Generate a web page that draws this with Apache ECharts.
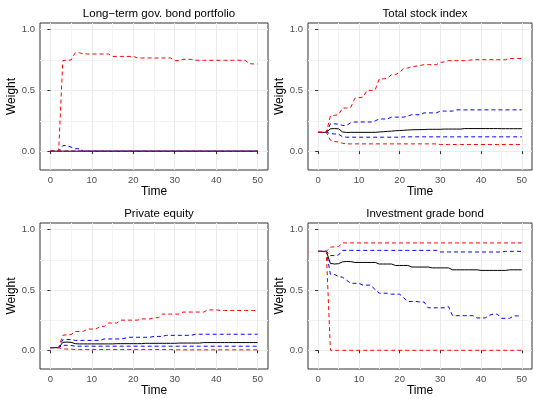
<!DOCTYPE html>
<html>
<head>
<meta charset="utf-8">
<script src="https://cdn.jsdelivr.net/npm/echarts@6/dist/echarts.min.js"></script>
<style>
  html, body { margin: 0; padding: 0; background: #ffffff; }
  #chart { width: 533px; height: 399px; }
</style>
</head>
<body>
<div id="chart"></div>
<script>
// Time steps (years)
const time = [0,1,2,3,4,5,6,7,8,9,10,11,12,13,14,15,16,17,18,19,20,21,22,23,24,25,26,27,28,29,30,31,32,33,34,35,36,37,38,39,40,41,42,43,44,45,46,47,48,49,50];

const panelTitles = ['Long\u2212term gov. bond portfolio', 'Total stock index', 'Private equity', 'Investment grade bond'];
const xTicks = [0, 10, 20, 30, 40, 50];
const yTicks = [0, 0.5, 1];

// Long-term gov. bond portfolio
const govMedian = [0,0,0,0,0,0,0,0,0,0,0,0,0,0,0,0,0,0,0,0,0,0,0,0,0,0,0,0,0,0,0,0,0,0,0,0,0,0,0,0,0,0,0,0,0,0,0,0,0,0,0];
const govBlueHi = [0,0,0,0.045,0.047,0.033,0.02,0.02,0,0,0,0,0,0,0,0,0,0,0,0,0,0,0,0,0,0,0,0,0,0,0,0,0,0,0,0,0,0,0,0,0,0,0,0,0,0,0,0,0,0,0];
const govBlueLo = [0,0,0,0,0,0,0,0,0,0,0,0,0,0,0,0,0,0,0,0,0,0,0,0,0,0,0,0,0,0,0,0,0,0,0,0,0,0,0,0,0,0,0,0,0,0,0,0,0,0,0];
const govRedHi = [0,0,0,0.745,0.75,0.75,0.81,0.81,0.80,0.80,0.80,0.80,0.80,0.80,0.80,0.78,0.78,0.78,0.78,0.78,0.78,0.767,0.767,0.767,0.767,0.767,0.767,0.767,0.767,0.767,0.745,0.745,0.756,0.756,0.756,0.748,0.748,0.748,0.748,0.748,0.748,0.748,0.748,0.748,0.748,0.748,0.748,0.748,0.72,0.718,0.718];
const govRedLo = [0,0,0,0,0,0,0,0,0,0,0,0,0,0,0,0,0,0,0,0,0,0,0,0,0,0,0,0,0,0,0,0,0,0,0,0,0,0,0,0,0,0,0,0,0,0,0,0,0,0,0];

// Total stock index
const stkMedian = [0.155,0.155,0.155,0.184,0.186,0.184,0.158,0.154,0.155,0.155,0.155,0.155,0.155,0.155,0.155,0.158,0.16,0.163,0.165,0.168,0.17,0.172,0.174,0.176,0.177,0.177,0.178,0.18,0.18,0.18,0.18,0.182,0.182,0.182,0.182,0.182,0.186,0.186,0.186,0.186,0.186,0.186,0.186,0.186,0.186,0.185,0.185,0.185,0.185,0.185,0.185];
const stkBlueHi = [0.155,0.155,0.155,0.225,0.225,0.222,0.212,0.212,0.235,0.24,0.24,0.24,0.24,0.24,0.25,0.265,0.265,0.265,0.28,0.28,0.28,0.28,0.29,0.30,0.30,0.30,0.315,0.315,0.315,0.315,0.33,0.33,0.33,0.33,0.34,0.34,0.34,0.34,0.34,0.34,0.34,0.34,0.34,0.34,0.34,0.34,0.34,0.34,0.34,0.34,0.34];
const stkBlueLo = [0.155,0.155,0.155,0.145,0.142,0.14,0.118,0.115,0.115,0.115,0.115,0.115,0.115,0.115,0.115,0.115,0.115,0.115,0.115,0.115,0.115,0.118,0.118,0.118,0.118,0.118,0.118,0.118,0.118,0.118,0.118,0.118,0.118,0.118,0.118,0.118,0.118,0.118,0.118,0.118,0.118,0.118,0.118,0.118,0.118,0.118,0.118,0.118,0.118,0.118,0.118];
const stkRedHi = [0.155,0.155,0.155,0.29,0.295,0.30,0.355,0.355,0.36,0.435,0.44,0.445,0.50,0.50,0.505,0.595,0.595,0.60,0.63,0.63,0.65,0.68,0.685,0.695,0.70,0.705,0.712,0.712,0.712,0.712,0.73,0.735,0.745,0.745,0.745,0.745,0.745,0.748,0.753,0.753,0.753,0.753,0.753,0.753,0.753,0.753,0.753,0.763,0.763,0.763,0.763];
const stkRedLo = [0.155,0.155,0.155,0.09,0.08,0.075,0.065,0.06,0.06,0.06,0.06,0.06,0.06,0.06,0.06,0.06,0.06,0.06,0.06,0.06,0.06,0.06,0.06,0.06,0.06,0.06,0.06,0.06,0.06,0.06,0.055,0.055,0.055,0.055,0.055,0.055,0.055,0.055,0.055,0.055,0.055,0.055,0.055,0.055,0.055,0.055,0.055,0.055,0.055,0.055,0.055];

// Private equity
const peMedian = [0.022,0.022,0.022,0.066,0.068,0.066,0.055,0.053,0.053,0.053,0.053,0.053,0.053,0.053,0.053,0.053,0.055,0.055,0.055,0.055,0.055,0.055,0.055,0.058,0.058,0.058,0.058,0.058,0.058,0.058,0.058,0.06,0.06,0.06,0.06,0.06,0.06,0.064,0.064,0.064,0.064,0.064,0.064,0.064,0.064,0.064,0.064,0.064,0.064,0.064,0.064];
const peBlueHi = [0.022,0.022,0.022,0.088,0.09,0.088,0.082,0.082,0.082,0.082,0.082,0.082,0.082,0.094,0.094,0.094,0.094,0.094,0.10,0.108,0.108,0.108,0.108,0.108,0.108,0.115,0.115,0.115,0.124,0.124,0.124,0.124,0.124,0.124,0.124,0.133,0.133,0.133,0.133,0.133,0.133,0.133,0.133,0.133,0.133,0.133,0.133,0.133,0.133,0.133,0.133];
const peBlueLo = [0.022,0.022,0.022,0.042,0.041,0.04,0.034,0.034,0.034,0.034,0.034,0.034,0.034,0.034,0.034,0.034,0.034,0.034,0.034,0.034,0.034,0.034,0.034,0.034,0.034,0.034,0.034,0.034,0.034,0.034,0.034,0.034,0.034,0.034,0.034,0.034,0.034,0.034,0.034,0.034,0.034,0.034,0.034,0.034,0.034,0.034,0.034,0.034,0.034,0.034,0.034];
const peRedHi = [0.022,0.022,0.022,0.125,0.128,0.13,0.155,0.157,0.158,0.176,0.176,0.176,0.198,0.198,0.226,0.226,0.226,0.25,0.25,0.25,0.25,0.25,0.26,0.26,0.26,0.27,0.27,0.30,0.30,0.30,0.30,0.30,0.317,0.317,0.317,0.317,0.317,0.317,0.335,0.335,0.335,0.33,0.33,0.33,0.33,0.33,0.33,0.33,0.33,0.33,0.33];
const peRedLo = [0.022,0.022,0.022,0.012,0.01,0.01,0.006,0.006,0.006,0.006,0.006,0.006,0.006,0.006,0.006,0.006,0.006,0.006,0.006,0.006,0.006,0.006,0.006,0.006,0.006,0.006,0.006,0.006,0.006,0.006,0.004,0.004,0.004,0.004,0.004,0.004,0.004,0.004,0.004,0.004,0.004,0.004,0.004,0.004,0.004,0.004,0.004,0.004,0.004,0.004,0.004];

// Investment grade bond
const igMedian = [0.82,0.82,0.82,0.72,0.715,0.718,0.733,0.736,0.735,0.728,0.728,0.728,0.728,0.728,0.728,0.715,0.715,0.715,0.715,0.703,0.703,0.703,0.703,0.69,0.69,0.69,0.69,0.69,0.683,0.683,0.683,0.683,0.683,0.667,0.667,0.667,0.667,0.667,0.667,0.667,0.662,0.662,0.662,0.662,0.662,0.662,0.662,0.667,0.667,0.667,0.667];
const igBlueHi = [0.82,0.82,0.82,0.785,0.785,0.79,0.828,0.828,0.828,0.828,0.828,0.828,0.828,0.828,0.828,0.828,0.828,0.828,0.828,0.828,0.828,0.828,0.828,0.828,0.828,0.828,0.828,0.828,0.828,0.828,0.815,0.815,0.815,0.815,0.815,0.815,0.815,0.815,0.815,0.815,0.815,0.815,0.815,0.815,0.815,0.815,0.82,0.82,0.82,0.82,0.82];
const igBlueLo = [0.82,0.82,0.82,0.63,0.628,0.612,0.605,0.58,0.555,0.555,0.555,0.54,0.54,0.54,0.50,0.473,0.473,0.473,0.465,0.465,0.465,0.435,0.405,0.405,0.405,0.40,0.40,0.352,0.352,0.352,0.352,0.352,0.362,0.287,0.287,0.287,0.287,0.287,0.287,0.268,0.268,0.268,0.29,0.30,0.30,0.265,0.265,0.265,0.285,0.285,0.285];
const igRedHi = [0.82,0.82,0.82,0.855,0.857,0.86,0.89,0.89,0.89,0.89,0.89,0.89,0.89,0.89,0.89,0.89,0.89,0.89,0.89,0.89,0.89,0.89,0.89,0.89,0.89,0.89,0.89,0.89,0.89,0.89,0.89,0.89,0.89,0.89,0.89,0.89,0.89,0.89,0.89,0.89,0.89,0.89,0.89,0.89,0.89,0.89,0.89,0.89,0.89,0.89,0.89];
const igRedLo = [0.82,0.82,0.82,0,0,0,0,0,0,0,0,0,0,0,0,0,0,0,0,0,0,0,0,0,0,0,0,0,0,0,0,0,0,0,0,0,0,0,0,0,0,0,0,0,0,0,0,0,0,0,0];

const panels = [
  { median: govMedian, blueHi: govBlueHi, blueLo: govBlueLo, redHi: govRedHi, redLo: govRedLo },
  { median: stkMedian, blueHi: stkBlueHi, blueLo: stkBlueLo, redHi: stkRedHi, redLo: stkRedLo },
  { median: peMedian,  blueHi: peBlueHi,  blueLo: peBlueLo,  redHi: peRedHi,  redLo: peRedLo },
  { median: igMedian,  blueHi: igBlueHi,  blueLo: igBlueLo,  redHi: igRedHi,  redLo: igRedLo }
];

const FONT = '"Liberation Sans", Arial, Helvetica, sans-serif';
const gridBoxes = [
  { left: 40,  top: 23,  width: 228, height: 147 },
  { left: 308, top: 23,  width: 224, height: 147 },
  { left: 40,  top: 223, width: 228, height: 146 },
  { left: 308, top: 223, width: 224, height: 146 }
];

const grids = [], xAxes = [], yAxes = [], titles = [], series = [];

gridBoxes.forEach((g, i) => {
  grids.push(Object.assign({
    show: true, backgroundColor: '#ffffff',
    borderColor: '#333333', borderWidth: 1, containLabel: false
  }, g));

  titles.push({
    text: panelTitles[i],
    left: g.left + g.width / 2,
    top: g.top - 20,
    textAlign: 'center',
    textStyle: { fontFamily: FONT, fontSize: 11.5, fontWeight: 'normal', color: '#000000' }
  });

  xAxes.push({
    type: 'value', gridIndex: i, min: -2.5, max: 52.5,
    name: 'Time', nameLocation: 'middle', nameGap: 14,
    nameTextStyle: { fontFamily: FONT, fontSize: 12, color: '#000000' },
    axisLine: { show: false },
    axisTick: { show: true, length: 3, customValues: xTicks, lineStyle: { color: '#333333', width: 1 } },
    axisLabel: { customValues: xTicks, margin: 5, fontFamily: FONT, fontSize: 9.5, color: '#4D4D4D' },
    splitLine: { show: true, lineStyle: { color: '#EBEBEB', width: 1 } },
    minorTick: { show: false, splitNumber: 2 },
    minorSplitLine: { show: true, lineStyle: { color: '#F3F3F3', width: 1 } }
  });

  yAxes.push({
    type: 'value', gridIndex: i, min: -0.155, max: 1.055, splitNumber: 2,
    name: 'Weight', nameLocation: 'middle', nameGap: 18, nameRotate: 90,
    nameTextStyle: { fontFamily: FONT, fontSize: 12, color: '#000000' },
    axisLine: { show: false },
    axisTick: { show: true, length: 3, customValues: yTicks, lineStyle: { color: '#333333', width: 1 } },
    axisLabel: { customValues: yTicks, margin: 5, fontFamily: FONT, fontSize: 9.5, color: '#4D4D4D',
                 formatter: v => v.toFixed(1) },
    splitLine: { show: true, lineStyle: { color: '#EBEBEB', width: 1 } },
    minorTick: { show: false, splitNumber: 2 },
    minorSplitLine: { show: true, lineStyle: { color: '#F3F3F3', width: 1 } }
  });

  const p = panels[i];
  const pair = arr => time.map((t, k) => [t, arr[k]]);
  const line = (arr, color, dashed) => ({
    type: 'line', xAxisIndex: i, yAxisIndex: i, data: pair(arr),
    showSymbol: false, symbol: 'none', silent: true,
    lineStyle: { color: color, width: 1, type: dashed ? [4, 3] : 'solid' }
  });
  series.push(line(p.median, '#000000', false));
  series.push(line(p.blueHi, '#0000FF', true));
  series.push(line(p.blueLo, '#0000FF', true));
  series.push(line(p.redHi, '#FF0000', true));
  series.push(line(p.redLo, '#FF0000', true));
});

const chart = echarts.init(document.getElementById('chart'), null, { renderer: 'canvas' });
chart.setOption({
  animation: false,
  backgroundColor: '#ffffff',
  title: titles,
  grid: grids,
  xAxis: xAxes,
  yAxis: yAxes,
  series: series
});
</script>
</body>
</html>
